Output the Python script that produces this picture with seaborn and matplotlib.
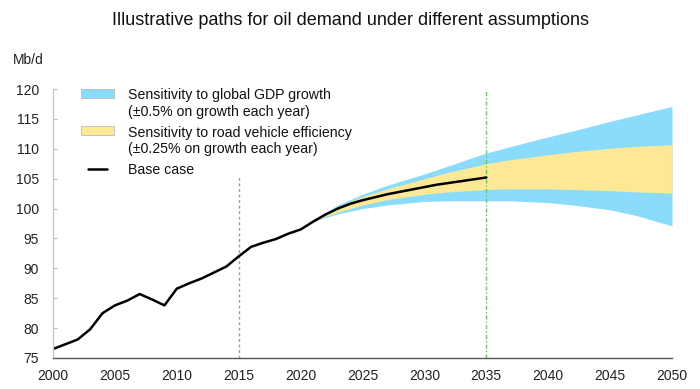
import numpy as np
import pandas as pd
import matplotlib
matplotlib.use('Agg')
import matplotlib.pyplot as plt
import seaborn as sns
from matplotlib.patches import Patch, Rectangle
from matplotlib.lines import Line2D
from matplotlib.legend_handler import HandlerPatch, HandlerBase

# base case (history + projection to 2035), Mb/d
base_years = list(range(2000, 2036))
base_values = [76.5, 77.3, 78.1, 79.8, 82.5, 83.8, 84.6, 85.7, 84.8, 83.8,
               86.6, 87.5, 88.3, 89.3, 90.3, 92.0, 93.6, 94.3, 94.9, 95.8,
               96.5, 97.8, 99.0, 100.0, 100.8, 101.4, 101.9, 102.4, 102.8, 103.2,
               103.6, 104.0, 104.3, 104.6, 104.9, 105.2]

# sensitivity bands
band_years = [2021, 2022, 2023, 2025, 2027, 2030, 2032, 2035, 2037, 2040, 2042, 2045, 2047, 2050]
gdp_high = [97.8, 99.3, 100.6, 102.4, 103.9, 105.8, 107.2, 109.3, 110.4, 112.0, 113.0, 114.6, 115.6, 117.1]
eff_high = [97.8, 99.1, 100.3, 102.0, 103.3, 105.0, 106.1, 107.5, 108.2, 109.0, 109.5, 110.1, 110.4, 110.7]
eff_low = [97.8, 98.7, 99.4, 100.6, 101.5, 102.4, 102.8, 103.2, 103.3, 103.3, 103.2, 103.0, 102.8, 102.6]
gdp_low = [97.8, 98.5, 99.1, 100.0, 100.6, 101.2, 101.3, 101.3, 101.3, 101.0, 100.6, 99.8, 98.9, 97.1]

df_base = pd.DataFrame({'year': base_years, 'demand': base_values})

sns.set_style('white')
plt.rcParams['font.family'] = ['Liberation Sans', 'DejaVu Sans']

blue = '#8bdcfc'
yellow = '#fde995'


# legend swatch sits next to the first line of a two-line label
def top_patch(legend, orig_handle, xdescent, ydescent, width, height, fontsize):
    return Rectangle((-xdescent, -ydescent + 0.75 * fontsize), width, height)


class ShortLine(HandlerBase):
    def create_artists(self, legend, orig_handle, xdescent, ydescent, width, height, fontsize, trans):
        y = height / 2 - ydescent
        ln = Line2D([-xdescent + 0.2 * width, -xdescent + 0.8 * width], [y, y],
                    color=orig_handle.get_color(), lw=orig_handle.get_linewidth(), transform=trans)
        return [ln]


fig = plt.figure(figsize=(7, 3.89), dpi=100)
ax = fig.add_axes([0.0757, 0.0797, 0.8843, 0.6913])

ax.fill_between(band_years, gdp_low, gdp_high, color=blue, lw=0)
ax.fill_between(band_years, eff_low, eff_high, color=yellow, lw=0)
ax.plot([2050, 2050], [gdp_low[-1], gdp_high[-1]], color='#cccccc', lw=0.8)

ax.vlines(2015, 75, 105.5, colors='#9a9a9a', linestyles=(0, (2, 2)), lw=1)
ax.vlines(2035, 75, 120, colors='#6cc36c', linestyles=(0, (3, 1.5, 1, 1.5)), lw=1)

sns.lineplot(data=df_base, x='year', y='demand', color='black', lw=1.8, ax=ax)

ax.set_xlim(2000, 2050)
ax.set_ylim(75, 120)
ax.set_xticks(range(2000, 2051, 5))
ax.set_yticks(range(75, 121, 5))
ax.set_xlabel('')
ax.set_ylabel('')
ax.tick_params(axis='x', length=0, labelsize=10, colors='#222222', pad=8)
ax.tick_params(axis='y', direction='in', length=3, width=0.8, color='#bbbbbb',
               labelsize=10, labelcolor='#222222', pad=10, left=True)
for s in ['top', 'right']:
    ax.spines[s].set_visible(False)
ax.spines['left'].set_color('#c8c8c8')
ax.spines['left'].set_linewidth(1)
ax.spines['bottom'].set_color('#555555')
ax.spines['bottom'].set_linewidth(1)

fig.text(0.018, 0.835, 'Mb/d', fontsize=10, color='#222222')
fig.text(0.5, 0.935, 'Illustrative paths for oil demand under different assumptions',
         ha='center', fontsize=13, color='#111111')

handles = [Patch(facecolor=blue, edgecolor='#bbbbbb', lw=0.6),
           Patch(facecolor=yellow, edgecolor='#bbbbbb', lw=0.6),
           Line2D([0], [0], color='black', lw=1.8)]
labels = ['Sensitivity to global GDP growth\n(\u00b10.5% on growth each year)',
          'Sensitivity to road vehicle efficiency\n(\u00b10.25% on growth each year)',
          'Base case']
leg = ax.legend(handles, labels, loc='upper left', bbox_to_anchor=(0.025, 1.05),
                frameon=False, fontsize=10.2, handlelength=2.3, handleheight=0.55,
                handletextpad=1.0, labelspacing=0.5,
                handler_map={Patch: HandlerPatch(patch_func=top_patch),
                             Line2D: ShortLine()})
for t in leg.get_texts():
    t.set_color('#111111')

fig.savefig('out.png', dpi=100)
